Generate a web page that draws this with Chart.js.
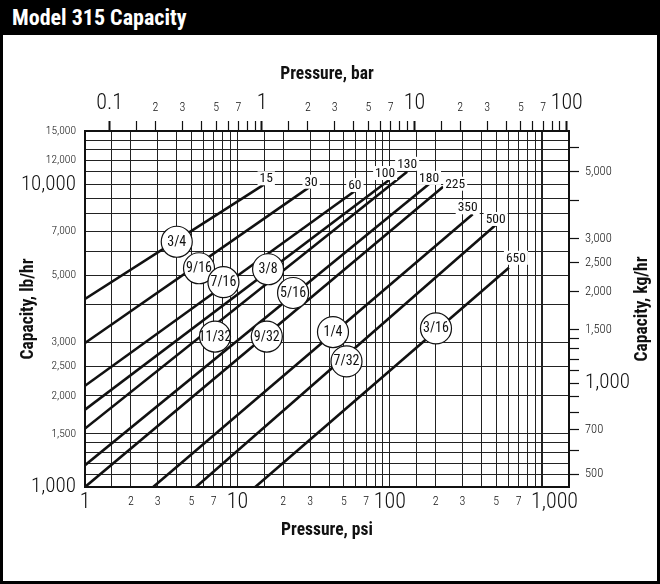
<!DOCTYPE html>
<html><head><meta charset="utf-8">
<script src="https://cdn.jsdelivr.net/npm/chart.js@4.4.1/dist/chart.umd.min.js"></script>
<style>
html,body{margin:0;padding:0;background:#fff;}
#wrap{position:relative;width:660px;height:584px;overflow:hidden;background:#fff;}
#c{position:absolute;left:0;top:0;}
#hdr{position:absolute;left:0;top:0;width:660px;height:35px;background:#000;color:#fff;
  font:bold 22px 'Roboto Condensed','Liberation Sans',sans-serif;
  line-height:35px;padding-left:12px;box-sizing:border-box;white-space:nowrap;}
#frame{position:absolute;left:0;top:0;width:660px;height:584px;box-sizing:border-box;
  border-left:3px solid #000;border-right:3px solid #000;border-bottom:3px solid #000;pointer-events:none;}
</style></head><body>
<div id="wrap"><canvas id="c" width="660" height="584"></canvas><div id="hdr">Model 315 Capacity</div><div id="frame"></div></div>
<script>
const FONT = "'Roboto Condensed', 'Liberation Sans', sans-serif";
const PSI_PER_BAR = 14.5038;
const KG_PER_LB = 0.45359237;

// ---- data: one line per orifice size ----
const orifices    = ['3/4','9/16','7/16','3/8','11/32','5/16','9/32','1/4','7/32','3/16'];
const rangeLabels = ['15','30','60','100','130','180','225','350','500','650'];
const startPsi    = [1, 1, 1, 1, 1, 1, 1, 2.8, 5.35, 13.1];
const startLb     = [4180, 2990, 2160, 1800, 1560, 1180, 1000, 1000, 1000, 1000];
const endPsi      = [15, 30, 59, 99, 130, 181, 224, 350, 495, 605];
const endLb       = [10000, 9820, 9500, 10330, 11000, 10030, 9820, 7960, 7340, 5300];
const circlePsi   = [4.0, 5.6, 8.1, 15.9, 7.13, 23.2, 15.6, 42.4, 52, 201];
const circleLb    = [6460, 5280, 4750, 5240, 3140, 4375, 3140, 3250, 2600, 3340];

// ---- axis ticks ----
const psiTicks  = [1,1.5,2,3,4,5,6,7,8,9,10,15,20,30,40,50,60,70,80,90,100,150,200,300,400,500,600,700,800,900,1000];
const psiLabels = ['1','','2','3','','5','','7','','','10','','2','3','','5','','7','','','100','','2','3','','5','','7','','','     1,000'];
const barTicks  = [0.1,0.15,0.2,0.3,0.4,0.5,0.6,0.7,0.8,0.9,1,1.5,2,3,4,5,6,7,8,9,10,15,20,30,40,50,60,70,80,90,100];
const barLabels = ['0.1','','2','3','','5','','7','','','1','','2','3','','5','','7','','','10','','2','3','','5','','7','','','100'];
const lbTicks   = [1000,1100,1200,1300,1400,1500,2000,2500,3000,4000,5000,6000,7000,8000,9000,10000,11000,12000,13000,14000,15000];
const lbLabels  = ['1,000','','','','','1,500','2,000','2,500','3,000','','5,000','','7,000','','','10,000','','12,000','','','15,000'];
const kgTicks   = [500,600,700,800,900,1000,1100,1200,1300,1400,1500,2000,2500,3000,4000,5000,6000];
const kgLabels  = ['500','','700','','','1,000','','','','','1,500','2,000','2,500','3,000','','5,000',''];
const bigLabels = ['0.1','1','10','100','1,000','10,000'];

// ---- label placement styles (offsets in px from line end) ----
const labelDX = [2, 1, 0, -4, 0, 0, 12, -5, 0, 7];
const labelDY = [-6, -5, -6, -7, -8, -6, -3, -7, -6, -10];

const isBig = (labels, i) => bigLabels.includes(String(labels[i]).trim());
const mkFont = (size, weight, lh) => {
  const f = {family: FONT, size};
  if (weight) f.weight = weight;
  if (lh) f.lineHeight = lh;
  return f;
};
function tickFont(labels, bigSize, smallSize, bigLH, smallLH) {
  return ctx => isBig(labels, ctx.index) ? mkFont(bigSize, 300, bigLH) : mkFont(smallSize, 300, smallLH);
}
const setTicks = vals => scale => { scale.ticks = vals.map(v => ({value: v})); };

const datasets = orifices.map((o, i) => ({
  label: o,
  data: [{x: startPsi[i], y: startLb[i]}, {x: endPsi[i], y: endLb[i]}],
  showLine: true, borderColor: '#111', borderWidth: 2.6, pointRadius: 0,
  fill: false, tension: 0, xAxisID: 'x', yAxisID: 'y', borderCapStyle: 'butt'
}));

const annotate = {
  id: 'annotate',
  afterDatasetsDraw(chart) {
    const {ctx, scales: {x, y}} = chart;
    ctx.save();
    ctx.textAlign = 'center';
    ctx.textBaseline = 'middle';
    ctx.font = `13.5px ${FONT}`;
    rangeLabels.forEach((t, i) => {
      const px = x.getPixelForValue(endPsi[i]) + labelDX[i];
      const py = y.getPixelForValue(endLb[i]) + labelDY[i];
      const w = ctx.measureText(t).width;
      ctx.fillStyle = '#fff';
      ctx.fillRect(px - w / 2 - 2, py - 7, w + 4, 14);
      ctx.fillStyle = '#111';
      ctx.fillText(t, px, py + 0.5);
    });
    ctx.font = `14px ${FONT}`;
    orifices.forEach((t, i) => {
      const px = x.getPixelForValue(circlePsi[i]);
      const py = y.getPixelForValue(circleLb[i]);
      ctx.beginPath();
      ctx.arc(px, py, 15.5, 0, Math.PI * 2);
      ctx.fillStyle = '#fff';
      ctx.fill();
      ctx.lineWidth = 1.2;
      ctx.strokeStyle = '#111';
      ctx.stroke();
      ctx.fillStyle = '#111';
      ctx.fillText(t, px, py + 0.5);
    });
    ctx.restore();
  },
  afterDraw(chart) {
    const {ctx, chartArea} = chart;
    ctx.save();
    ctx.translate(643, (chartArea.top + chartArea.bottom) / 2);
    ctx.rotate(-Math.PI / 2);
    ctx.textAlign = 'center';
    ctx.textBaseline = 'middle';
    ctx.fillStyle = '#111';
    ctx.font = `bold 17.5px ${FONT}`;
    ctx.fillText('Capacity, kg/hr', 0, 0);
    ctx.restore();
  }
};

new Chart(document.getElementById('c'), {
  type: 'scatter',
  data: {datasets},
  plugins: [annotate],
  options: {
    responsive: false, animation: false, events: [],
    layout: {padding: 0},
    plugins: {legend: {display: false}, tooltip: {enabled: false}},
    scales: {
      x: {
        type: 'logarithmic', position: 'bottom', min: 1, max: 1500,
        afterBuildTicks: setTicks(psiTicks),
        afterFit: s => { s.height = 97; },
        ticks: {autoSkip: false, maxRotation: 0, minRotation: 0, padding: 2, color: '#111',
          callback: (v, i) => psiLabels[i], font: tickFont(psiLabels, 22, 12, '26px', '26px')},
        grid: {drawTicks: false, color: '#222',
          lineWidth: ctx => (ctx.tick && ctx.tick.value === 1000) ? 2 : 1},
        border: {display: true, color: '#111', width: 2},
        title: {display: true, text: 'Pressure, psi', color: '#111',
          font: mkFont(17.5, 'bold'), padding: {top: 0, bottom: 43}}
      },
      x2: {
        type: 'logarithmic', position: 'top', min: 1 / PSI_PER_BAR, max: 1500 / PSI_PER_BAR,
        afterBuildTicks: setTicks(barTicks),
        afterFit: s => { s.height = 131; },
        ticks: {autoSkip: false, maxRotation: 0, minRotation: 0, padding: 4, color: '#111',
          callback: (v, i) => barLabels[i], font: tickFont(barLabels, 22, 12, '26.4px', '18px')},
        grid: {drawOnChartArea: false, drawTicks: true, tickLength: 10, tickColor: '#111',
          tickWidth: ctx => isBig(barLabels, ctx.index) ? 2 : 1.2},
        border: {display: true, color: '#111', width: 2},
        title: {display: true, text: 'Pressure, bar', color: '#111',
          font: mkFont(17.5, 'bold'), padding: {top: 64, bottom: 0}}
      },
      y: {
        type: 'logarithmic', position: 'left', min: 1000, max: 15000,
        afterBuildTicks: setTicks(lbTicks),
        afterFit: s => { s.width = 85; },
        ticks: {autoSkip: false, padding: 9, color: '#111',
          callback: (v, i) => lbLabels[i], font: tickFont(lbLabels, 21, 11.5)},
        grid: {drawTicks: false, color: '#222', lineWidth: 1},
        border: {display: true, color: '#111', width: 2},
        title: {display: true, text: 'Capacity, lb/hr', color: '#111',
          font: mkFont(17.5, 'bold'), padding: {top: 18, bottom: 0}}
      },
      y2: {
        type: 'logarithmic', position: 'right', min: 1000 * KG_PER_LB, max: 15000 * KG_PER_LB,
        afterBuildTicks: setTicks(kgTicks),
        afterFit: s => { s.width = 91; },
        ticks: {autoSkip: false, padding: 6, color: '#111',
          callback: (v, i) => kgLabels[i], font: tickFont(kgLabels, 21, 12.5)},
        grid: {drawOnChartArea: false, drawTicks: true, tickLength: 10, tickColor: '#111', tickWidth: 1.2},
        border: {display: true, color: '#111', width: 2}
      }
    }
  }
});
</script>
</body></html>
